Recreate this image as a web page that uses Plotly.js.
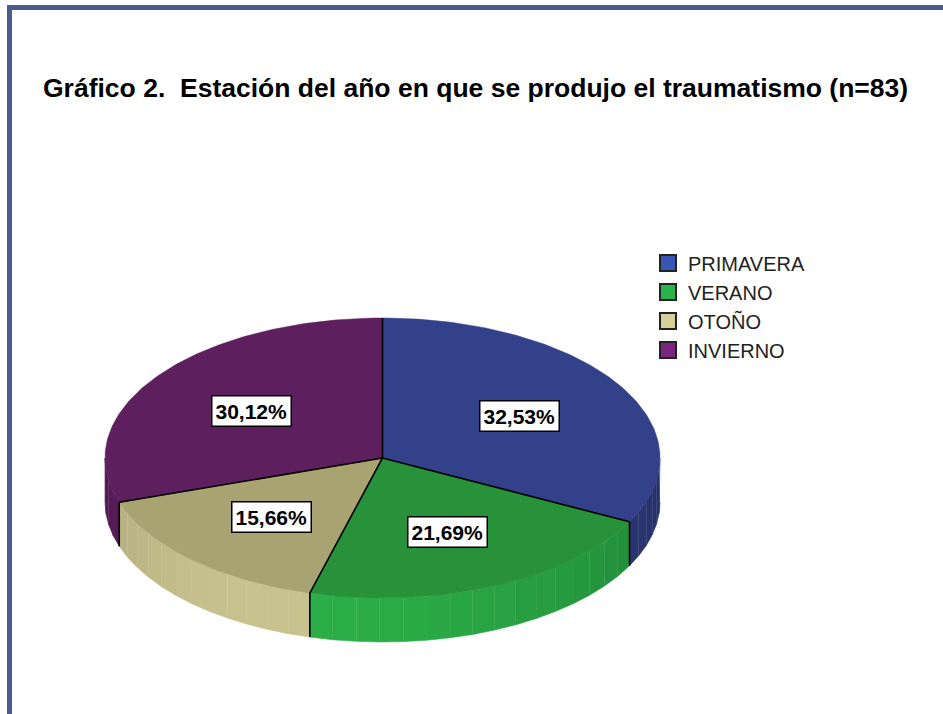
<!DOCTYPE html>
<html>
<head>
<meta charset="utf-8">
<script src="https://cdn.plot.ly/plotly-3.0.1.min.js"></script>
<style>html,body{margin:0;padding:0;background:#fff;}#chart{width:943px;height:714px;}</style>
</head>
<body>
<div id="chart"></div>
<script>
// ---- data ----
const seasons = ['PRIMAVERA', 'VERANO', 'OTOÑO', 'INVIERNO'];
const counts = [27, 18, 13, 25];
const topColors = ['#33418a', '#27923a', '#a9a372', '#5e1f5e'];
const sideColors = ['#33418c', '#2bae47', '#c8c28f', '#5f1e60'];
const legendColors = ['#3a56b4', '#2bb34a', '#d6d19b', '#7b2582'];
const titleText = 'Gráfico 2.  Estación del año en que se produjo el traumatismo (n=83)';

// ---- geometry (pixel space via axes) ----
const W = 943, H = 714;
const cx = 382.5, cy = 458, rx = 277.5, ry = 140, depth = 44;
const total = counts.reduce((a, b) => a + b, 0);
function pt(theta, dy) {
  const r = theta * Math.PI / 180;
  return [cx + rx * Math.sin(r), cy - ry * Math.cos(r) + (dy || 0)];
}
function arc(a, b, dy) {
  const xs = [], ys = [];
  const n = Math.max(2, Math.ceil(Math.abs(b - a)));
  for (let k = 0; k <= n; k++) {
    const p = pt(a + (b - a) * k / n, dy);
    xs.push(p[0]); ys.push(p[1]);
  }
  return [xs, ys];
}
function shade(hex, f) {
  const n = parseInt(hex.slice(1), 16);
  const c = [(n >> 16) & 255, (n >> 8) & 255, n & 255].map(v => Math.round(Math.min(255, v * f)));
  return 'rgb(' + c.join(',') + ')';
}

const sides = [], tops = [], edges = [], annotations = [];
let acc = 0;
counts.forEach((v, i) => {
  const a = acc / total * 360;
  acc += v;
  const b = acc / total * 360;
  // side wall (front half only), drawn as shaded strips
  const s = Math.max(a, 90), e = Math.min(b, 270);
  if (s < e) {
    const nStrip = Math.max(1, Math.ceil((e - s) / 5));
    for (let k = 0; k < nStrip; k++) {
      const s1 = s + (e - s) * k / nStrip, e1 = s + (e - s) * (k + 1) / nStrip;
      const mid = (s1 + e1) / 2;
      const f = 0.86 + 0.14 * Math.cos((mid - 200) * 1.3 * Math.PI / 180);
      const col = shade(sideColors[i], f);
      const up = arc(s1, e1, 0), dn = arc(e1, s1, depth);
      sides.push({
        type: 'scatter', mode: 'lines', x: up[0].concat(dn[0]), y: up[1].concat(dn[1]),
        fill: 'toself', fillcolor: col, line: { width: 0.6, color: col },
        hoverinfo: 'skip', showlegend: false
      });
    }
  }
  // top face
  const t = arc(a, b, 0);
  tops.push({
    type: 'scatter', mode: 'lines', x: [cx].concat(t[0], [cx]), y: [cy].concat(t[1], [cy]),
    fill: 'toself', fillcolor: topColors[i], line: { width: 0.5, color: topColors[i] },
    hoverinfo: 'skip', showlegend: false
  });
  // radial edge at start angle
  const p0 = pt(a, 0);
  edges.push({ type: 'scatter', mode: 'lines', x: [cx, p0[0]], y: [cy, p0[1]],
    line: { color: '#000', width: 1.6 }, hoverinfo: 'skip', showlegend: false });
  if (a > 90 && a < 270) {
    const p1 = pt(a, depth);
    edges.push({ type: 'scatter', mode: 'lines', x: [p0[0], p1[0]], y: [p0[1], p1[1]],
      line: { color: '#000', width: 1.6 }, hoverinfo: 'skip', showlegend: false });
  }
  // percentage label
  const m = (a + b) / 2, fr = 0.58;
  const r = m * Math.PI / 180;
  annotations.push({
    x: cx + fr * rx * Math.sin(r), y: cy - fr * ry * Math.cos(r), xref: 'x', yref: 'y',
    text: '<b>' + (v / total * 100).toFixed(2).replace('.', ',') + '%</b>', showarrow: false,
    font: { family: 'Arial, "Liberation Sans", sans-serif', size: 21, color: '#000' },
    bgcolor: '#ffffff', bordercolor: '#000', borderwidth: 1.5, borderpad: 3
  });
});

// legend entries
const legendTraces = seasons.map((s, i) => ({
  type: 'scatter', mode: 'markers', x: [null], y: [null], name: s,
  marker: { symbol: 'square', size: 21, color: legendColors[i], line: { color: '#222', width: 2 } },
  hoverinfo: 'skip', showlegend: true
}));

const data = sides.concat(tops, edges, legendTraces);

const layout = {
  width: W, height: H,
  margin: { l: 0, r: 0, t: 0, b: 0 },
  paper_bgcolor: '#fff', plot_bgcolor: '#fff',
  xaxis: { range: [0, W], visible: false, fixedrange: true },
  yaxis: { range: [H, 0], visible: false, fixedrange: true },
  showlegend: true,
  legend: {
    x: 648 / W, xanchor: 'left', y: 1 - 243.5 / H, yanchor: 'top',
    font: { family: 'Arial, "Liberation Sans", sans-serif', size: 20, color: '#222' },
    bgcolor: 'rgba(0,0,0,0)', itemwidth: 30, tracegroupgap: 0, traceorder: 'normal'
  },
  title: {
    text: '<b>' + titleText + '</b>',
    x: 43 / W, xanchor: 'left', xref: 'container',
    y: 1 - 88 / H, yanchor: 'middle', yref: 'container',
    font: { family: 'Arial, "Liberation Sans", sans-serif', size: 26.5, color: '#000' }
  },
  annotations: annotations,
  shapes: [
    { type: 'line', xref: 'x', yref: 'y', x0: 7, x1: W, y0: 7.5, y1: 7.5, line: { color: '#4b5b8c', width: 5 } },
    { type: 'line', xref: 'x', yref: 'y', x0: 9.5, x1: 9.5, y0: 5, y1: H, line: { color: '#4b5b8c', width: 5 } }
  ]
};

Plotly.newPlot('chart', data, layout, { displayModeBar: false, staticPlot: true });
</script>
</body>
</html>
